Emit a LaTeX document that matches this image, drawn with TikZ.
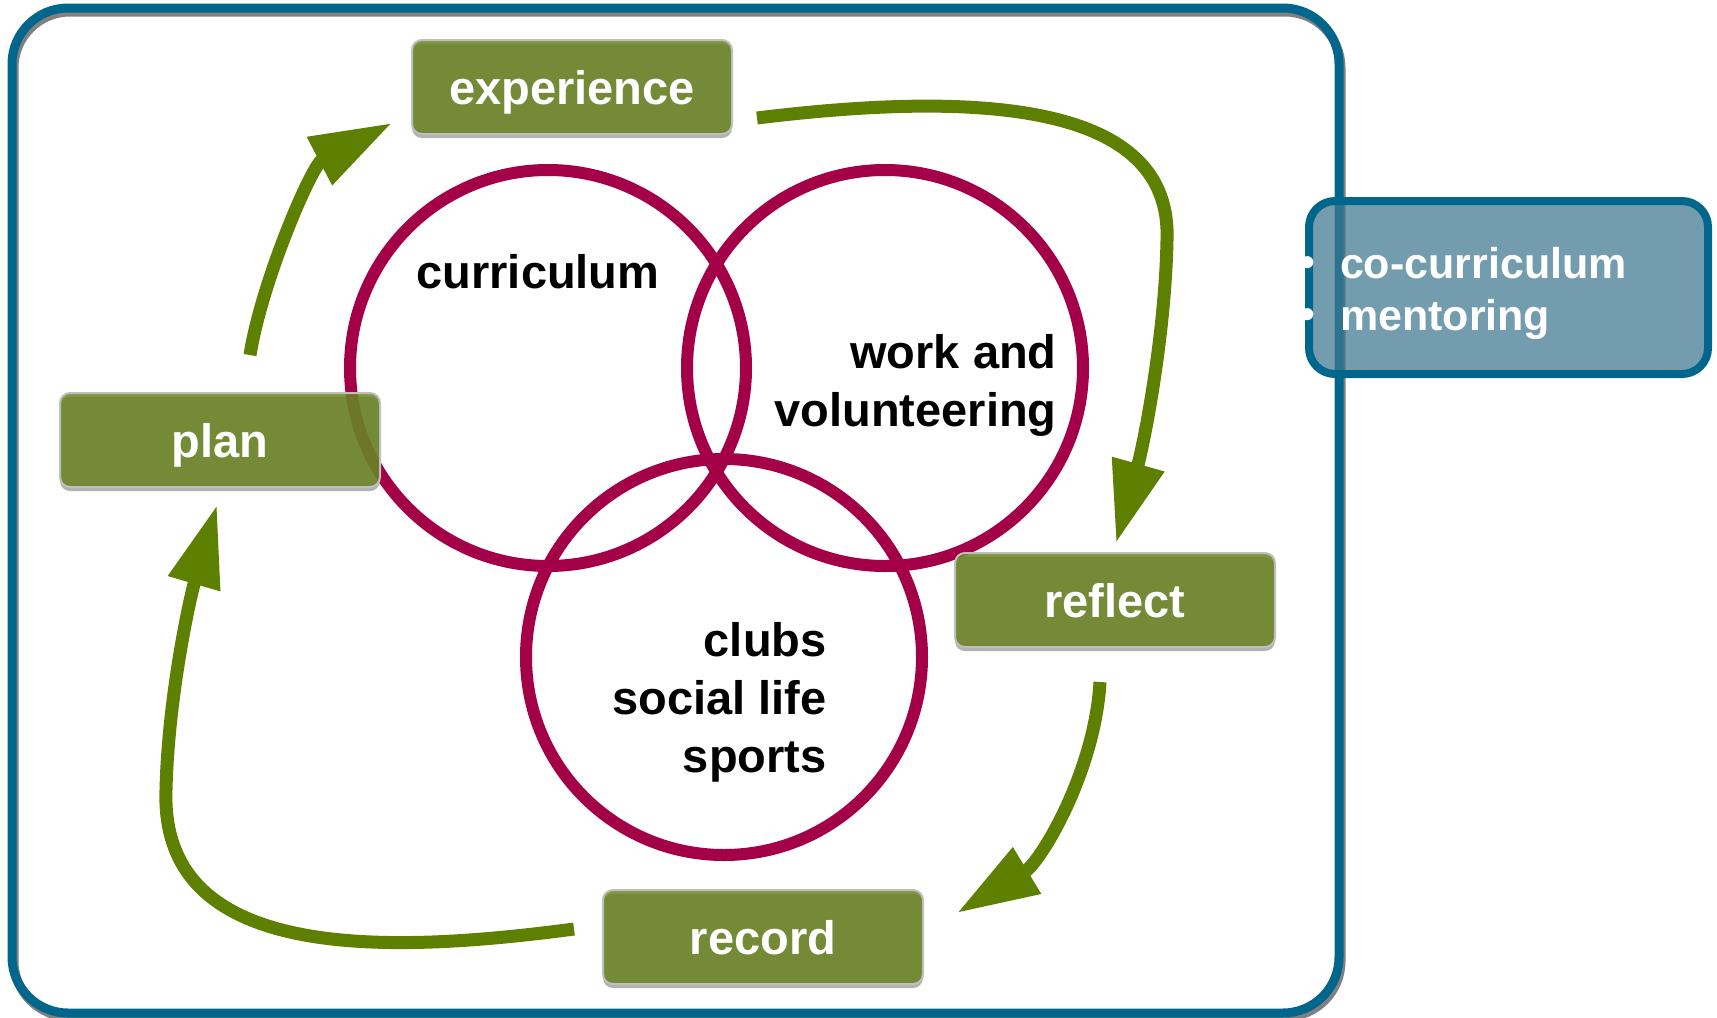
\documentclass[tikz,border=0pt]{standalone}
\usepackage{fontspec}
\setmainfont{Liberation Sans}
\usetikzlibrary{arrows.meta,shadows,calc}

\definecolor{stepgreen}{RGB}{107,132,34}
\definecolor{arrowgreen}{RGB}{94,128,0}
\definecolor{ringred}{RGB}{163,0,72}
\definecolor{framebl}{RGB}{0,102,140}
\definecolor{notebl}{RGB}{63,121,144}

\newcommand{\notebullet}{\leavevmode\llap{\raisebox{1pt}{\fontsize{21}{21}\selectfont\textbullet}\hspace{12.3pt}}}

\begin{document}
\begin{tikzpicture}[x=.5pt,y=-.5pt]
\tikzstyle{every node}=[inner sep=0pt, font=\bfseries\fontsize{23.5}{29}\selectfont]
\tikzstyle{stepbox}=[rectangle, rounded corners=5pt, minimum width=160pt, minimum height=47pt,
  fill=stepgreen, fill opacity=.85, text opacity=1, text=white, text depth=0pt,
  draw=black!25, line width=1pt,
  drop shadow={shadow xshift=0pt, shadow yshift=-2pt, opacity=.5, fill=black!60}]
\tikzstyle{notebox}=[rectangle, rounded corners=13pt, draw=framebl, line width=4pt,
  fill=notebl, fill opacity=.73, text opacity=1, text=white, text width=168.5pt,
  inner xsep=15.5pt, minimum height=86.5pt, align=left,
  font=\bfseries\fontsize{21.5}{26}\selectfont]
\tikzstyle{venn}=[draw=ringred, line width=6pt]
\tikzstyle{cyclearrow}=[draw=arrowgreen, line width=6.5pt, -{Triangle[length=41pt,width=25.5pt]}]
\useasboundingbox (0,0) rectangle (1717,1017);

% frame
\draw[black!50, line width=4.5pt, rounded corners=28pt] (14,12) rectangle (1341,1017);
\draw[framebl, line width=4.5pt, rounded corners=28pt] (12,8) rectangle (1339,1013);

% the three areas
\draw[venn] (548,368) circle (198);
\draw[venn] (885,368) circle (198);
\draw[venn] (724,657) circle (198);
\draw (538,272) node (curr) {curriculum};
\draw (1057,385) node (work) [anchor=east, align=right] {work and\\volunteering};
\draw (827,702) node (clubs) [anchor=east, align=right] {clubs\\social life\\sports};

% the cycle
\draw (572,87) node (exp) [stepbox] {experience};
\draw (220,440) node (plan) [stepbox] {plan};
\draw (1115,600) node (refl) [stepbox] {reflect};
\draw (763,937) node (rec) [stepbox] {record};

\coordinate (bend2) at (1167,240);
\coordinate (bend4) at (166,790);
\draw[cyclearrow] ($(plan.north)+(30,-37)$) .. controls +(12,-75) and +(-80,42) .. ($(exp.west)+(-19,36)$);
\draw[cyclearrow] ($(exp.east)+(24,31)$) .. controls +(244,-30) and +(5,-130) .. (bend2)
  .. controls +(-2,100) and +(27,-96) .. ($(refl.north)+(1,-9)$);
\draw[cyclearrow] ($(refl.south)+(-15,34)$) .. controls +(-5,89) and +(84,-51) .. ($(rec.east)+(33,-24)$);
\draw[cyclearrow] ($(rec.west)+(-28,-8)$) .. controls +(-195,26) and +(-6,170) .. (bend4)
  .. controls +(2,-90) and +(-28,96) .. ($(plan.south)+(-3,17)$);

% side note
\draw (1508.5,287.5) node (cocurr) [notebox] {\noindent\rule{0pt}{21.2pt}\notebullet co-curriculum\\\notebullet mentoring};
\end{tikzpicture}
\end{document}
